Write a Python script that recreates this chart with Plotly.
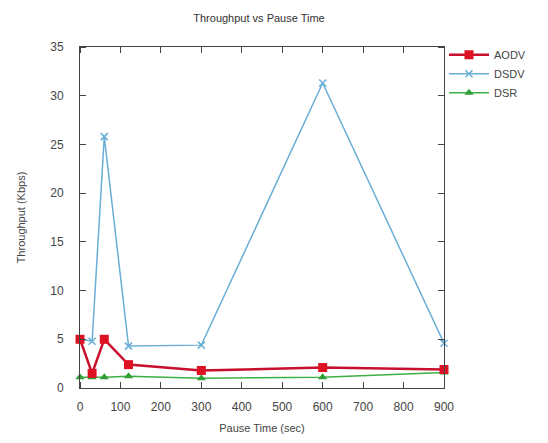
import plotly.graph_objects as go

pause_time = [0, 30, 60, 120, 300, 600, 900]
aodv = [5.0, 1.5, 5.0, 2.4, 1.8, 2.1, 1.9]
dsdv = [5.0, 4.8, 25.8, 4.3, 4.4, 31.3, 4.6]
dsr = [1.1, 1.1, 1.1, 1.2, 1.0, 1.1, 1.6]

font = dict(family="Liberation Sans, Arial, sans-serif", size=11, color="#444")
tickfont = dict(family="Liberation Sans, Arial, sans-serif", size=12, color="#444")

fig = go.Figure()
fig.add_trace(go.Scatter(x=pause_time, y=dsdv, name="DSDV", mode="lines+markers", cliponaxis=False,
                         line=dict(color="#6aaed6", width=1.5),
                         marker=dict(symbol="x-thin", size=7, line=dict(color="#6aaed6", width=1.5))))
fig.add_trace(go.Scatter(x=pause_time, y=dsr, name="DSR", mode="lines+markers", cliponaxis=False,
                         line=dict(color="#3cb043", width=1.5),
                         marker=dict(symbol="triangle-up", size=8, color="#2e9e35")))
fig.add_trace(go.Scatter(x=pause_time, y=aodv, name="AODV", mode="lines+markers", cliponaxis=False,
                         line=dict(color="#c8102e", width=2.5),
                         marker=dict(symbol="square", size=9, color="#dd1122")))

def axis(dtick, ticklen_out):
    return dict(showgrid=False, zeroline=False, showline=True, linecolor="#444",
                linewidth=1, mirror="ticks", ticks="outside", ticklen=ticklen_out,
                tickcolor="rgba(0,0,0,0)", tickfont=tickfont, dtick=dtick,
                minor=dict(ticks="inside", dtick=dtick, ticklen=6, tickcolor="#444", showgrid=False))

fig.update_layout(
    width=548, height=443,
    margin=dict(l=80, r=104, t=47, b=55),
    paper_bgcolor="white", plot_bgcolor="white",
    title=dict(text="Throughput vs Pause Time", x=259/548, xanchor="center",
               y=1 - 18/443, yanchor="middle", font=dict(family=font["family"], size=11, color="#333")),
    xaxis=dict(range=[0, 900], title=dict(text="Pause Time (sec)", font=font, standoff=10), **axis(100, 8)),
    yaxis=dict(range=[0, 35], title=dict(text="Throughput (Kbps)", font=font, standoff=22), **axis(5, 13)),
    legend=dict(x=1.0, y=1.02, xanchor="left", yanchor="top", font=font,
                traceorder="normal", itemwidth=40, tracegroupgap=0, bgcolor="rgba(0,0,0,0)"),
    showlegend=True,
)
# order legend AODV, DSDV, DSR
fig.data[2].legendrank = 1
fig.data[0].legendrank = 2
fig.data[1].legendrank = 3

fig.write_html("out.html")
